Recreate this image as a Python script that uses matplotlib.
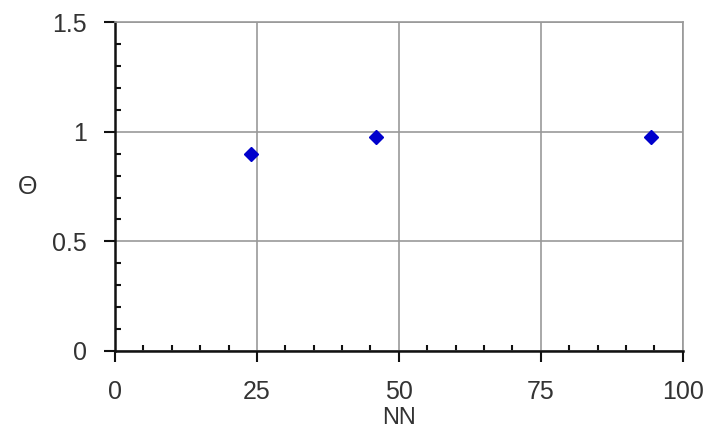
import numpy as np
import matplotlib.pyplot as plt
from matplotlib.ticker import MultipleLocator

plt.rcParams['font.family'] = ['Liberation Sans', 'DejaVu Sans']

# data
nn = [24, 46, 94.5]
theta = [0.90, 0.977, 0.977]

fig = plt.figure(figsize=(7.08, 4.47), dpi=100)
ax = fig.add_axes([0.1624, 0.2154, 0.9643 - 0.1624, 0.9497 - 0.2154])

ax.plot(nn, theta, linestyle='none', marker='D', markersize=7,
        color='#0000CC', zorder=5, clip_on=False)

ax.set_xlim(0, 100)
ax.set_ylim(0, 1.5)
ax.xaxis.set_minor_locator(MultipleLocator(5))
ax.yaxis.set_minor_locator(MultipleLocator(0.1))
ax.set_xticks([0, 25, 50, 75, 100], ['0', '25', '50', '75', '100'])
ax.set_yticks([0, 0.5, 1, 1.5], ['0', '0.5', '1', '1.5'])

ax.grid(True, which='major', color='#999999', linewidth=1.2)
ax.set_axisbelow(True)

for s in ['top', 'right']:
    ax.spines[s].set_color('#999999')
    ax.spines[s].set_linewidth(1.2)
for s in ['left', 'bottom']:
    ax.spines[s].set_color('#111111')
    ax.spines[s].set_linewidth(1.8)

ax.tick_params(which='major', direction='out', length=8, width=1.5,
               color='#111111', labelsize=18, labelcolor='#333333')
ax.tick_params(axis='x', which='major', pad=13)
ax.tick_params(axis='y', which='major', pad=12)
ax.tick_params(which='minor', direction='in', length=4, width=1.5,
               color='#111111')

ax.set_xlabel('NN', fontsize=17, color='#333333', labelpad=2)
ax.set_ylabel('Θ', fontsize=18, color='#333333', rotation=0,
              labelpad=18, va='center')

fig.savefig('out.png', dpi=100, facecolor='white')
